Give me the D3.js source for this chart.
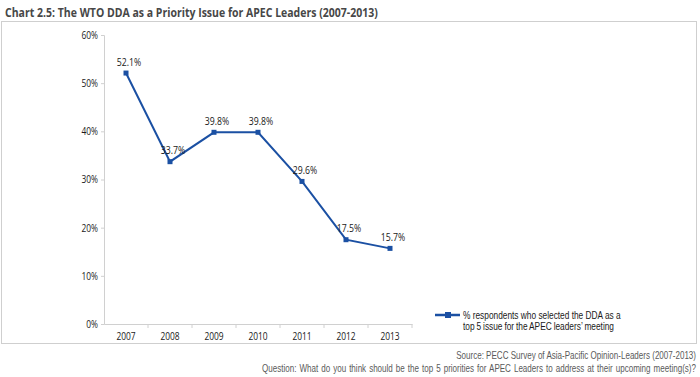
<!DOCTYPE html>
<html>
<head>
<meta charset="utf-8">
<script src="https://cdn.jsdelivr.net/npm/d3@7"></script>
<style>
  body { margin: 0; background: #fff; }
  svg text { font-family: "Open Sans", "DejaVu Sans", sans-serif; }
  svg text.tight { font-family: "Liberation Sans", Arial, sans-serif; }
</style>
</head>
<body>
<div id="chart"></div>
<script>
// chart data
const years = ['2007', '2008', '2009', '2010', '2011', '2012', '2013'];
const shares = [52.1, 33.7, 39.8, 39.8, 29.6, 17.5, 15.7];
const yTicks = [0, 10, 20, 30, 40, 50, 60];
const seriesName = ['% respondents who selected the DDA as a', 'top 5 issue for the APEC leaders\u2019 meeting'];
const titleText = 'Chart 2.5: The WTO DDA as a Priority Issue for APEC Leaders (2007-2013)';
const sourceLines = [
    'Source: PECC Survey of Asia-Pacific Opinion-Leaders (2007-2013)',
    'Question: What do you think should be the top 5 priorities for APEC Leaders to address at their upcoming meeting(s)?'
];

const width = 700, height = 377;
const lineColor = '#1b50a3';
const textColor = '#1a1a1a';
const squeeze = 0.8;   // the original font is a condensed face
const plot = { left: 104, right: 412, top: 35, bottom: 324 };

const svg = d3.select('#chart').append('svg')
    .attr('width', width)
    .attr('height', height);

// multi-line text block, squeezed so the first line is widths[0] wide;
// later lines are brought to their width with word spacing
function textBlock(x, y, lines, opts) {
    const g = svg.append('g').attr('transform', `translate(${x},${y})`);
    const t = g.append('text')
        .attr('class', opts.cls || null)
        .attr('font-size', opts.size)
        .attr('font-weight', opts.weight || 'normal')
        .attr('fill', opts.color)
        .attr('text-anchor', opts.anchor || 'start');
    const spans = t.selectAll('tspan')
        .data(lines)
        .enter().append('tspan')
        .attr('x', 0)
        .attr('dy', (d, i) => i === 0 ? 0 : opts.leading)
        .text(d => d);
    const k = opts.widths[0] / spans.nodes()[0].getComputedTextLength();
    t.attr('transform', `scale(${k},1)`);
    spans.each(function (d, i) {
        if (i === 0 || !opts.widths[i]) return;
        const natural = this.getComputedTextLength();
        const gaps = d.split(' ').length - 1;
        const extra = (opts.widths[i] / k - natural) / gaps;
        d3.select(this).style('word-spacing', extra + 'px');
    });
    return t;
}

// Title
textBlock(5, 16.5, [titleText], { size: 13, weight: 'bold', color: '#474747', widths: [373] });

// Frame
svg.append('rect')
    .attr('x', 1.5).attr('y', 21.5)
    .attr('width', 695).attr('height', 322)
    .attr('fill', 'none')
    .attr('stroke', '#cfcfcf');

// Scales
const x = d3.scaleBand().domain(years).range([plot.left, plot.right]);
const y = d3.scaleLinear().domain([0, 60]).range([plot.bottom, plot.top]);

// Y axis
const yAxis = svg.append('g')
    .attr('transform', `translate(${plot.left},0)`)
    .call(d3.axisLeft(y).tickValues(yTicks).tickFormat(d => d + '%').tickSize(3).tickPadding(3));
yAxis.select('.domain').attr('stroke', '#d0d0d0');
yAxis.selectAll('.tick line').attr('stroke', '#d0d0d0');
yAxis.selectAll('.tick text')
    .attr('font-size', 10.5)
    .attr('fill', textColor)
    .attr('x', -6 / squeeze)
    .attr('transform', `scale(${squeeze},1)`);

// X axis with ticks on band boundaries
const xAxis = svg.append('g')
    .attr('transform', `translate(0,${plot.bottom})`)
    .call(d3.axisBottom(x).tickSize(0).tickPadding(9));
xAxis.select('.domain').attr('stroke', '#d0d0d0');
xAxis.selectAll('.tick text')
    .attr('font-size', 10.5)
    .attr('fill', textColor)
    .attr('transform', `scale(${squeeze},1)`);
xAxis.selectAll('.bound')
    .data(years)
    .enter().append('line')
    .attr('class', 'bound')
    .attr('x1', d => x(d) + x.bandwidth())
    .attr('x2', d => x(d) + x.bandwidth())
    .attr('y1', 0).attr('y2', 4)
    .attr('stroke', '#d0d0d0');

// Line series
const data = years.map((yr, i) => ({ year: yr, value: shares[i] }));
const cx = d => x(d.year) + x.bandwidth() / 2;

svg.append('path')
    .datum(data)
    .attr('fill', 'none')
    .attr('stroke', lineColor)
    .attr('stroke-width', 2)
    .attr('d', d3.line().x(cx).y(d => y(d.value)));

svg.selectAll('.marker')
    .data(data)
    .enter().append('rect')
    .attr('class', 'marker')
    .attr('x', d => cx(d) - 2.5)
    .attr('y', d => y(d.value) - 2.5)
    .attr('width', 5).attr('height', 5)
    .attr('fill', lineColor);

svg.selectAll('.value-label')
    .data(data)
    .enter().append('g')
    .attr('class', 'value-label')
    .attr('transform', d => `translate(${cx(d) + 3},${y(d.value) - 7.5})`)
    .append('text')
    .attr('text-anchor', 'middle')
    .attr('font-size', 10.5)
    .attr('fill', textColor)
    .attr('transform', `scale(${squeeze + 0.03},1)`)
    .text(d => d.value.toFixed(1) + '%');

// Legend
const legend = svg.append('g').attr('transform', 'translate(435,315)');
legend.append('line')
    .attr('x1', 0).attr('x2', 25)
    .attr('stroke', lineColor).attr('stroke-width', 2.5);
legend.append('rect')
    .attr('x', 10).attr('y', -3).attr('width', 6).attr('height', 6)
    .attr('fill', lineColor);
textBlock(463, 318.5, seriesName, { cls: 'tight', size: 10, color: textColor, leading: 11.5, widths: [158, 151] });

// Source notes
textBlock(696, 359, sourceLines, { cls: 'tight', size: 10.5, color: '#5a5a5a', anchor: 'end', leading: 13, widths: [240, 434] });
</script>
</body>
</html>
